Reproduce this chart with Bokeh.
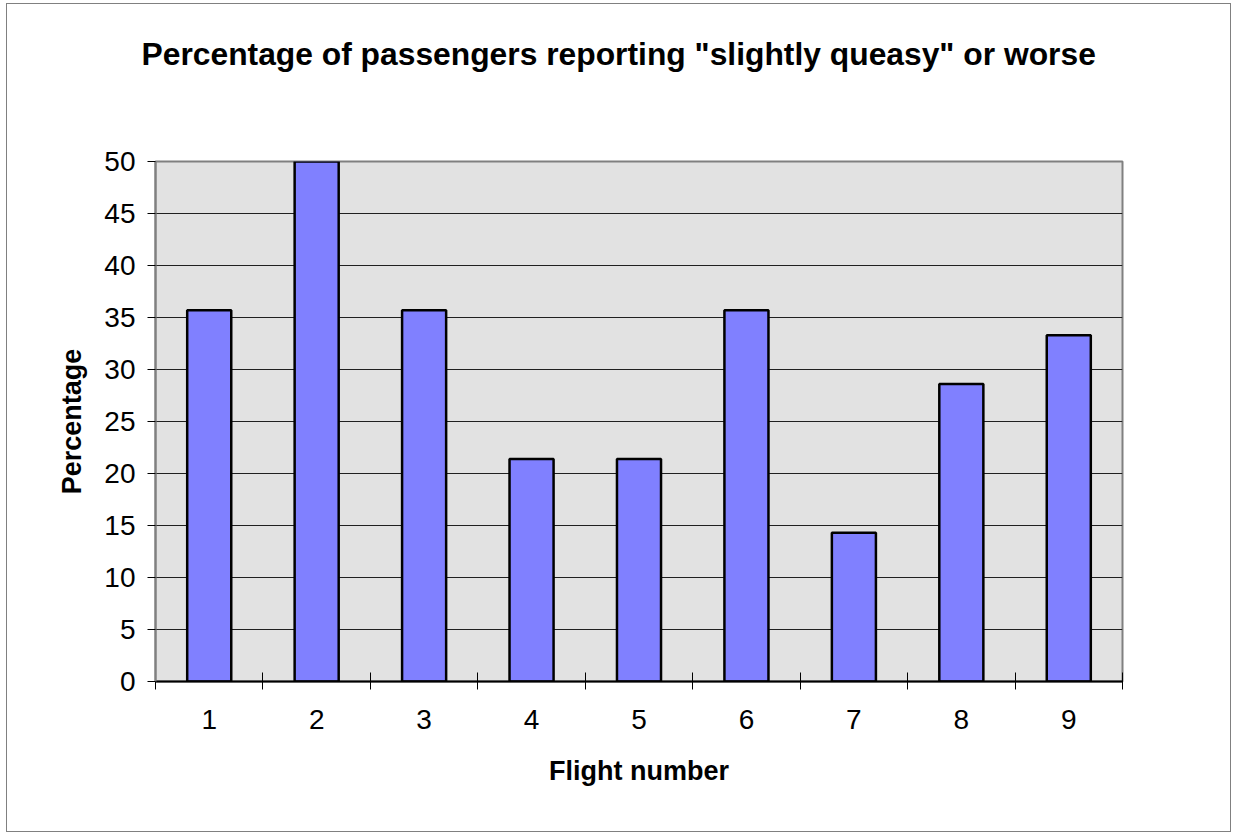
from bokeh.plotting import figure
from bokeh.models import FixedTicker, Range1d, Title
from bokeh.embed import file_html
from bokeh.resources import INLINE

# ---- data ----
flights = [1, 2, 3, 4, 5, 6, 7, 8, 9]
percentages = [35.7, 50.0, 35.7, 21.4, 21.4, 35.7, 14.3, 28.6, 33.3]
y_ticks = [0, 5, 10, 15, 20, 25, 30, 35, 40, 45, 50]
title_text = 'Percentage of passengers reporting "slightly queasy" or worse'
x_label = "Flight number"
y_label = "Percentage"

FONT = "Liberation Sans"

boundaries = [f - 0.5 for f in flights] + [flights[-1] + 0.5]

p = figure(width=1225, height=829, output_backend="svg", toolbar_location=None,
           x_range=Range1d(boundaries[0], boundaries[-1]),
           y_range=Range1d(y_ticks[0], y_ticks[-1]),
           min_border_left=148, min_border_right=110,
           min_border_top=157, min_border_bottom=152)

p.styles = {"border": "1px solid #808080", "margin-left": "6px", "margin-top": "3px"}
p.background_fill_color = "#E2E2E2"
p.border_fill_color = "white"
p.outline_line_color = "#808080"
p.outline_line_width = 2

# spacer between frame and title (pushes the title upward)
p.add_layout(Title(text=" ", text_font_size="1px", standoff=82), "above")

p.title = Title(text=title_text, align="left", offset=-14, text_font=FONT,
                text_font_size="31.8px", text_font_style="bold",
                text_color="black", standoff=10)

p.vbar(x=flights, top=percentages, width=0.41, bottom=0,
       fill_color="#8080FF", line_color="black", line_width=2.5)

# x axis
xa = p.xaxis[0]
xa.ticker = FixedTicker(ticks=flights, minor_ticks=boundaries)
xa.major_tick_line_color = None
xa.major_tick_in = 0
xa.major_tick_out = 8
xa.minor_tick_in = 9
xa.minor_tick_out = 8
xa.minor_tick_line_color = "black"
xa.minor_tick_line_width = 1
xa.axis_line_color = "black"
xa.axis_line_width = 2
xa.major_label_text_font = FONT
xa.major_label_text_font_size = "28px"
xa.major_label_text_color = "black"
xa.major_label_standoff = 20
xa.axis_label = x_label
xa.axis_label_text_font = FONT
xa.axis_label_text_font_size = "27px"
xa.axis_label_text_font_style = "bold"
xa.axis_label_text_color = "black"
xa.axis_label_standoff = 24

# y axis
ya = p.yaxis[0]
ya.ticker = FixedTicker(ticks=y_ticks)
ya.minor_tick_line_color = None
ya.major_tick_in = 0
ya.major_tick_out = 8
ya.major_tick_line_color = "black"
ya.axis_line_color = "#808080"
ya.axis_line_width = 2
ya.major_label_text_font = FONT
ya.major_label_text_font_size = "28px"
ya.major_label_text_color = "black"
ya.major_label_standoff = 12
ya.axis_label = y_label
ya.axis_label_text_font = FONT
ya.axis_label_text_font_size = "27px"
ya.axis_label_text_font_style = "bold"
ya.axis_label_text_color = "black"
ya.axis_label_standoff = 14

p.xgrid.grid_line_color = None
p.ygrid.ticker = FixedTicker(ticks=y_ticks)
p.ygrid.grid_line_color = "#202020"
p.ygrid.grid_line_width = 1

open("out.html", "w").write(file_html(p, INLINE))
